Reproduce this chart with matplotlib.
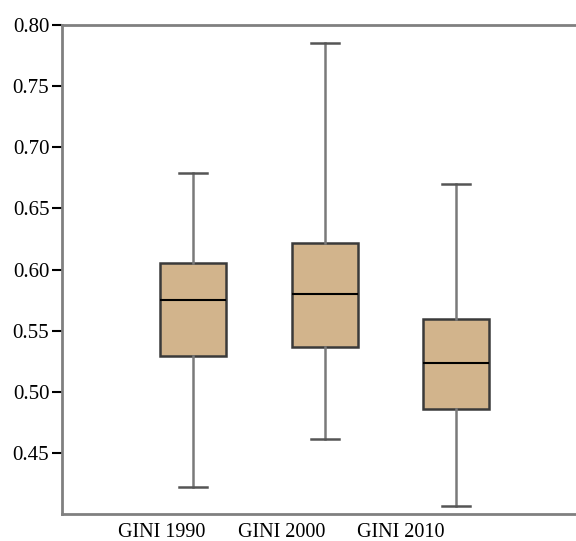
import matplotlib
matplotlib.use("Agg")
import matplotlib.pyplot as plt

# values
labels = ["GINI 1990", "GINI 2000", "GINI 2010"]
whislo = [0.4216, 0.4615, 0.4060]
q1 = [0.5289, 0.5366, 0.4861]
med = [0.5754, 0.5798, 0.5234]
q3 = [0.6054, 0.6213, 0.5593]
whishi = [0.6792, 0.7857, 0.6702]
yticks = [0.45, 0.50, 0.55, 0.60, 0.65, 0.70, 0.75, 0.80]


def graf():
    plt.rcParams['font.family'] = ['Liberation Serif', 'DejaVu Serif']
    stats = []
    for i in range(len(labels)):
        stats.append({'label': labels[i], 'whislo': whislo[i], 'q1': q1[i],
                      'med': med[i], 'q3': q3[i], 'whishi': whishi[i], 'fliers': []})

    fig = plt.figure(figsize=(5.76, 5.41), dpi=100)
    # right side of the frame runs off the picture, as in the reference
    ax = fig.add_axes([61.8 / 576, 27.3 / 541, 526.0 / 576, 488.4 / 541])

    ax.bxp(stats, positions=[1, 2, 3], widths=0.5, capwidths=0.21,
           patch_artist=True, showfliers=False,
           boxprops=dict(facecolor='#D2B48C', edgecolor='#3a3a3a', linewidth=1.8),
           medianprops=dict(color='black', linewidth=1.5),
           whiskerprops=dict(color='#7a7a7a', linewidth=1.8),
           capprops=dict(color='#555555', linewidth=1.8))

    ax.set_xlim(0, 4)
    ax.set_ylim(0.40, 0.80)
    ax.set_yticks(yticks)
    ax.set_yticklabels(['%.2f' % v for v in yticks])
    # in the reference the category labels sit left of the boxes
    ax.set_xticks([0.76, 1.67, 2.58])
    ax.set_xticklabels(labels)

    for s in ['left', 'bottom', 'top', 'right']:
        ax.spines[s].set_color('#808080')
        ax.spines[s].set_linewidth(2)

    ax.tick_params(axis='y', length=7, width=1.5, color='black', labelsize=15, pad=2)
    ax.tick_params(axis='x', length=0, labelsize=14.5, pad=7)

    fig.savefig('out.png', dpi=100)


if __name__ == '__main__':
    graf()
